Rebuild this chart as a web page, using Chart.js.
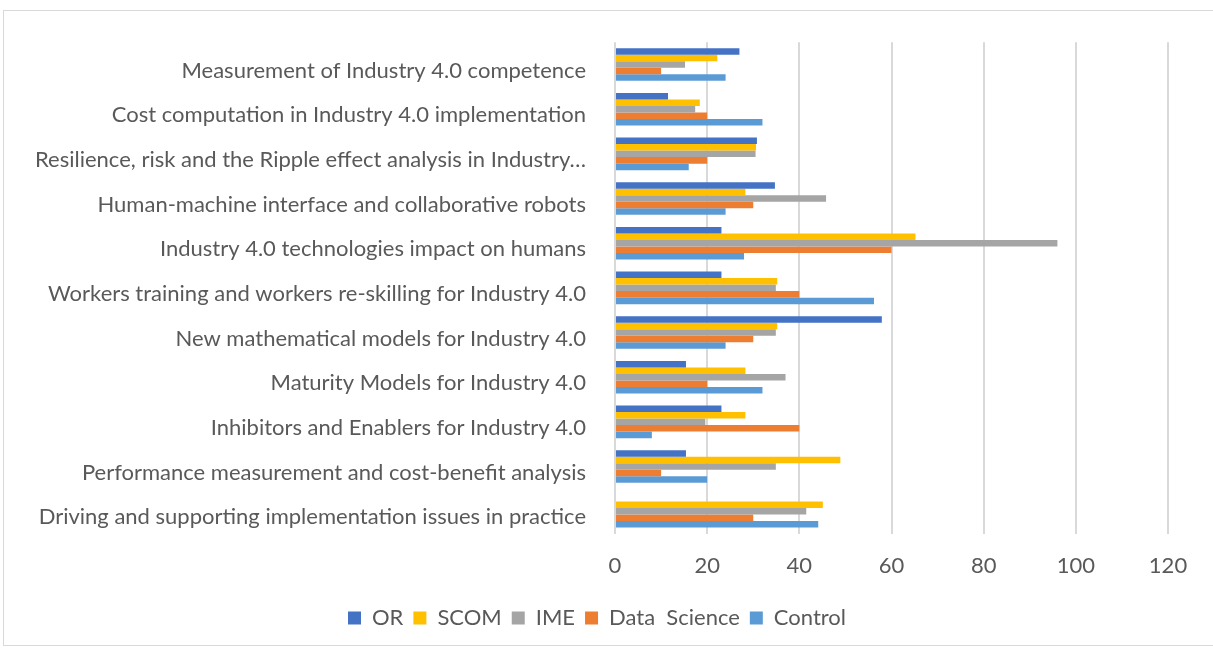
<!DOCTYPE html>
<html>
<head>
<meta charset="utf-8">
<script src="https://cdn.jsdelivr.net/npm/chart.js@4.4.1/dist/chart.umd.min.js"></script>
<style>
  html, body { margin: 0; padding: 0; background: #fff; }
  #wrap { position: relative; width: 1213px; height: 651px; overflow: hidden; }
  #frame { position: absolute; left: 3px; top: 10px; width: 1220px; height: 634px; border: 1px solid #d9d9d9; }
  #myChart { position: absolute; left: 0; top: 0; }
</style>
</head>
<body>
<div id="wrap">
  <div id="frame"></div>
  <canvas id="myChart" width="1213" height="651"></canvas>
</div>
<script>
// categories, listed top to bottom as drawn
const categories = [
    'Measurement of Industry 4.0 competence',
    'Cost computation in Industry 4.0 implementation',
    'Resilience, risk and the Ripple effect analysis in Industry\u2026',
    'Human-machine interface and collaborative robots',
    'Industry 4.0 technologies impact on humans',
    'Workers training and workers re-skilling for Industry 4.0',
    'New mathematical models for Industry 4.0',
    'Maturity Models for Industry 4.0',
    'Inhibitors and Enablers for Industry 4.0',
    'Performance measurement and cost-benefit analysis',
    'Driving and supporting implementation issues in practice'
];

const orValues      = [27, 11.5, 30.8, 34.7, 23.1, 23.1, 57.9, 15.4, 23.1, 15.4, 0];
const scomValues    = [22.2, 18.4, 30.6, 28.3, 65.2, 35.2, 35.2, 28.3, 28.3, 48.9, 45.1];
const imeValues     = [15.2, 17.4, 30.5, 45.8, 96, 34.9, 34.9, 37, 19.6, 34.9, 41.5];
const dsValues      = [10, 20, 20, 30, 60, 40, 30, 20, 40, 10, 30];
const controlValues = [24, 32, 16, 24, 28, 56.2, 24, 32, 8, 20, 44.1];

const xTicks = [0, 20, 40, 60, 80, 100, 120];

const FONT = 'Lato';
const TEXT = '#595959';

// nudge the legend a bit to the right, like the original
const legendShift = {
    id: 'legendShift',
    afterLayout: (chart) => {
        chart.legend.left += 13;
        chart.legend.right += 13;
    }
};

const ctx = document.getElementById('myChart').getContext('2d');

const myChart = new Chart(ctx, {
    type: 'bar',
    data: {
        labels: categories,
        datasets: [
            { label: 'OR', data: orValues, backgroundColor: '#4472C4' },
            { label: 'SCOM', data: scomValues, backgroundColor: '#FFC000' },
            { label: 'IME', data: imeValues, backgroundColor: '#A5A5A5' },
            { label: 'Data  Science', data: dsValues, backgroundColor: '#ED7D31' },
            { label: 'Control', data: controlValues, backgroundColor: '#5B9BD5' }
        ]
    },
    options: {
        indexAxis: 'y',
        responsive: false,
        animation: false,
        barPercentage: 1,
        categoryPercentage: 0.73,
        layout: { padding: { top: 39, right: 45, bottom: 12, left: 0 } },
        scales: {
            x: {
                min: 0,
                max: 120,
                afterBuildTicks: (scale) => { scale.ticks = xTicks.map(v => ({ value: v })); },
                afterFit: (scale) => { scale.height = 63.5; },
                grid: { color: '#d9d9d9', lineWidth: 2, drawTicks: false },
                border: { display: false },
                ticks: { padding: 19, color: TEXT, font: { family: FONT, size: 22 } }
            },
            y: {
                afterFit: (scale) => { scale.width = 615; },
                grid: { display: false, drawTicks: false },
                border: { display: false },
                ticks: { padding: 29, labelOffset: 6, color: TEXT, font: { family: FONT, size: 22 }, autoSkip: false }
            }
        },
        plugins: {
            legend: {
                position: 'bottom',
                labels: {
                    color: TEXT,
                    font: { family: FONT, size: 22 },
                    boxWidth: 13,
                    boxHeight: 13,
                    padding: 10
                }
            },
            tooltip: { enabled: false }
        }
    },
    plugins: [legendShift]
});
</script>
</body>
</html>
